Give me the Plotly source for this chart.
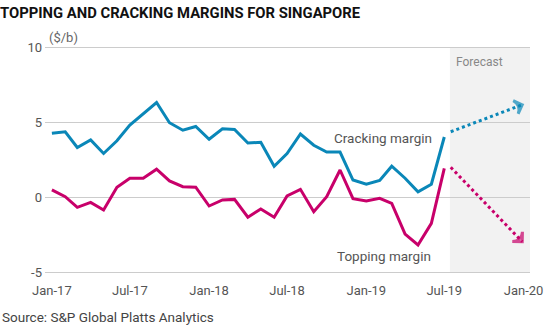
import pandas as pd
import plotly.graph_objects as go

months = pd.date_range("2017-01-01", "2019-07-01", freq="MS")
cracking = [4.25, 4.35, 3.3, 3.8, 2.9, 3.75, 4.8, 5.55, 6.3, 4.95, 4.45, 4.7,
            3.85, 4.55, 4.5, 3.6, 3.65, 2.05, 2.9, 4.2, 3.45, 3.0, 3.0, 1.13,
            0.85, 1.1, 2.05, 1.25, 0.35, 0.85, 4.0]
topping = [0.47, 0.02, -0.69, -0.36, -0.87, 0.65, 1.25, 1.25, 1.85, 1.07, 0.69, 0.65,
           -0.6, -0.2, -0.16, -1.35, -0.8, -1.35, 0.07, 0.51, -0.98, 0.02, 1.8, -0.11,
           -0.27, -0.09, -0.42, -2.47, -3.2, -1.76, 1.91]
fc_dates = ["2019-07-16", "2019-12-29"]
fc_cracking = [4.35, 6.15]
fc_topping = [1.98, -2.98]

x_tickvals = ["2017-01-01", "2017-07-01", "2018-01-01", "2018-07-01",
              "2019-01-01", "2019-07-01", "2020-01-01"]
x_ticktext = ["Jan-17", "Jul-17", "Jan-18", "Jul-18", "Jan-19", "Jul-19", "Jan-20"]
y_tickvals = [-5, 0, 5, 10]
y_ticktext = ["-5", "0", "5", "10"]

BLUE = "#0a87b8"
PINK = "#c8006a"
FONT = "Roboto"
X0, X1 = "2016-12-16", "2020-01-16"

fig = go.Figure()
fig.add_shape(type="rect", xref="x", yref="y", x0="2019-07-14", x1=X1,
              y0=-5, y1=10, fillcolor="#f2f2f2", line_width=0, layer="below")

fig.add_trace(go.Scatter(x=months, y=cracking, mode="lines",
                         line=dict(color=BLUE, width=3), hoverinfo="skip"))
fig.add_trace(go.Scatter(x=months, y=topping, mode="lines",
                         line=dict(color=PINK, width=3), hoverinfo="skip"))
for ys, col in [(fc_cracking, BLUE), (fc_topping, PINK)]:
    fig.add_trace(go.Scatter(
        x=fc_dates, y=ys, mode="lines+markers",
        line=dict(color=col, width=3, dash="dot"),
        marker=dict(symbol="arrow-wide-open", size=[0, 10], angleref="previous",
                    color=col, line=dict(color=col, width=3)),
        hoverinfo="skip"))

fig.add_annotation(text="Cracking margin", x="2019-06-07", y=3.93, xref="x", yref="y",
                   xanchor="right", yanchor="middle", showarrow=False,
                   font=dict(family=FONT, size=13.5, color="#555"))
fig.add_annotation(text="Topping margin", x="2019-06-05", y=-3.95, xref="x", yref="y",
                   xanchor="right", yanchor="middle", showarrow=False,
                   font=dict(family=FONT, size=13.5, color="#555"))
fig.add_annotation(text="Forecast", x=0.843, y=0.922, xref="paper", yref="paper",
                   xanchor="left", yanchor="middle", showarrow=False,
                   font=dict(family=FONT, size=12, color="#888"))
fig.add_annotation(text="($/b)", x=0.004, y=1.030, xref="paper", yref="paper",
                   xanchor="left", yanchor="middle", showarrow=False,
                   font=dict(family=FONT, size=13, color="#666"))
fig.add_annotation(text="Source: S&P Global Platts Analytics", x=-0.0928, y=-0.182,
                   xref="paper", yref="paper", xanchor="left", yanchor="middle",
                   showarrow=False, font=dict(family=FONT, size=13.5, color="#444"))

fig.update_layout(
    width=560, height=325, margin=dict(l=45, r=30, t=44, b=50),
    paper_bgcolor="white", plot_bgcolor="white", showlegend=False,
    title=dict(text="<b>TOPPING AND CRACKING MARGINS FOR SINGAPORE</b>",
               x=0, xref="container", xanchor="left", y=0.96, yref="container",
               yanchor="middle", font=dict(family=FONT, size=14.8, color="#111")),
    xaxis=dict(range=[X0, X1], tickvals=x_tickvals,
               ticktext=x_ticktext, showgrid=False, zeroline=False, showline=False,
               ticks="", ticklabelstandoff=6,
               tickfont=dict(family=FONT, size=13, color="#555")),
    yaxis=dict(range=[-5.2, 10.2], tickvals=y_tickvals, ticktext=y_ticktext,
               showgrid=True, gridcolor="#cccccc", gridwidth=1.2, zeroline=False,
               layer="below traces",
               showline=False, ticks="", ticklabelshift=0, ticklabelstandoff=2,
               tickfont=dict(family=FONT, size=13, color="#555")),
)
fig.write_html("out.html")
